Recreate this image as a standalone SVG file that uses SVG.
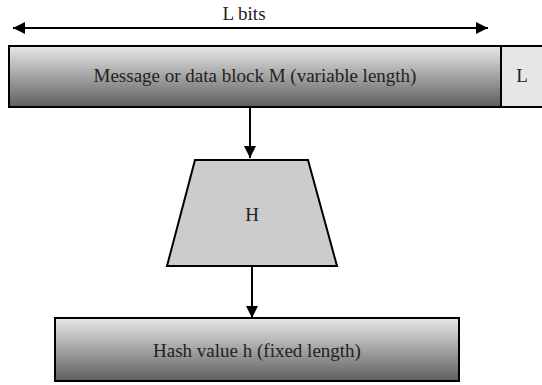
<svg xmlns="http://www.w3.org/2000/svg" width="542" height="385" viewBox="0 0 542 385">
<style>
text { font-family: "Liberation Serif", "Times New Roman", serif; fill: #222; text-anchor: middle; }
.lbl { font-size: 19px; }
.box { stroke: #000; stroke-width: 2; }
.conn { stroke: #000; stroke-width: 2; fill: none; }
</style>
<defs>
<linearGradient id="g" x1="0" y1="0" x2="0" y2="1">
<stop offset="0" stop-color="#e8e8e8"/>
<stop offset="1" stop-color="#5e5e5e"/>
</linearGradient>
<marker id="ah" viewBox="0 0 12 12" refX="12" refY="6" markerWidth="12" markerHeight="12" markerUnits="userSpaceOnUse" orient="auto-start-reverse">
<path d="M0,0 L12,6 L0,12 Z" fill="#000"/>
</marker>
</defs>
<g id="lbits">
<text class="lbl" x="244" y="20">L bits</text>
</g>
<g id="message">
<rect class="box" x="9" y="46" width="492" height="61" fill="url(#g)"/>
<text class="lbl" x="255" y="82">Message or data block M (variable length)</text>
</g>
<g id="lenfield">
<rect class="box" x="501" y="46" width="45" height="61" fill="#e6e6e6"/>
<text class="lbl" x="522" y="82">L</text>
</g>
<g id="hash">
<polygon class="box" points="195,160 308,160 337,266 167,266" fill="#cccccc"/>
<text class="lbl" x="252" y="221">H</text>
</g>
<g id="hashvalue">
<rect class="box" x="55" y="318" width="404" height="63" fill="url(#g)"/>
<text class="lbl" x="257" y="357">Hash value h (fixed length)</text>
</g>
<g id="connectors">
<line class="conn" x1="13" y1="28" x2="488" y2="28" marker-start="url(#ah)" marker-end="url(#ah)"/>
<line class="conn" x1="250" y1="107" x2="250" y2="158" marker-end="url(#ah)"/>
<line class="conn" x1="252" y1="266" x2="252" y2="318" marker-end="url(#ah)"/>
</g>
</svg>
